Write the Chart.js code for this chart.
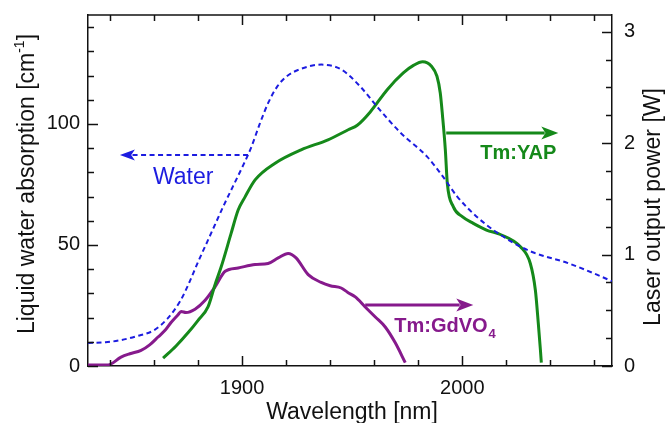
<!DOCTYPE html>
<html>
<head>
<meta charset="utf-8">
<script src="https://cdn.jsdelivr.net/npm/chart.js@4/dist/chart.umd.min.js"></script>
<style>
  html, body { margin: 0; padding: 0; background: #fff; }
  #wrap { width: 666px; height: 423px; position: relative; }
</style>
</head>
<body>
<div id="wrap"><canvas id="c"></canvas></div>
<script>
// ---------- data ----------
const waterWavelength = [1830, 1838, 1845, 1852, 1860, 1866, 1872, 1876, 1880, 1884, 1888, 1892, 1896, 1900, 1904, 1908, 1912, 1916, 1920, 1926, 1936, 1945, 1953.6, 1961.4, 1971.8, 1984, 1991.4, 1997.7, 2008, 2023, 2032, 2048, 2063, 2068];
const waterAbsorption = [9.5, 9.8, 10.7, 12.3, 14.8, 19.5, 27, 34.5, 43, 51, 59, 67, 74.5, 82, 90, 100, 109, 115.5, 119.5, 122.5, 124.5, 122.5, 115.5, 107, 96.5, 86.5, 78, 70, 60.5, 51, 47, 42.5, 37, 35];

const yapWavelength = [1864.1, 1870, 1875.5, 1880, 1884.5, 1887.7, 1890.5, 1895, 1898.2, 1901.4, 1905.9, 1915, 1926.8, 1939, 1948.2, 1952.3, 1958.2, 1965.9, 1973.2, 1978, 1982, 1986, 1988.5, 1990, 1991, 1992.3, 1993.2, 1995.9, 2000, 2005, 2011, 2017.3, 2026.4, 2030.9, 2033.2, 2034.5, 2035.5, 2035.9];
const yapPower = [0.07, 0.18, 0.30, 0.41, 0.53, 0.73, 0.89, 1.19, 1.40, 1.52, 1.67, 1.82, 1.94, 2.03, 2.12, 2.16, 2.28, 2.48, 2.63, 2.70, 2.73, 2.69, 2.60, 2.45, 2.25, 1.94, 1.64, 1.43, 1.34, 1.28, 1.22, 1.18, 1.07, 0.92, 0.68, 0.39, 0.14, 0.03];

const gdvoWavelength = [1830, 1839.1, 1845, 1849, 1854.1, 1858, 1861.8, 1865, 1867.7, 1870.9, 1872.3, 1874.5, 1878.6, 1883.2, 1887.7, 1892.3, 1898.2, 1905.9, 1911.8, 1916.4, 1920.9, 1924.5, 1930, 1935.9, 1940, 1945, 1948, 1951.4, 1955.9, 1960.5, 1965, 1969.5, 1974.1];
const gdvoPower = [0.01, 0.01, 0.08, 0.11, 0.14, 0.19, 0.26, 0.32, 0.39, 0.46, 0.49, 0.48, 0.51, 0.59, 0.71, 0.85, 0.88, 0.91, 0.92, 0.97, 1.01, 0.97, 0.82, 0.75, 0.72, 0.70, 0.66, 0.62, 0.53, 0.44, 0.35, 0.21, 0.03];

const xTickValues = [1840, 1860, 1880, 1900, 1920, 1940, 1960, 1980, 2000, 2020, 2040, 2060];
const xTickLabels = { 1900: '1900', 2000: '2000' };
const leftTickValues = [0, 10, 20, 30, 40, 50, 60, 70, 80, 90, 100, 110, 120, 130, 140];
const leftTickLabels = { 0: '0', 50: '50', 100: '100' };
const rightTickValues = [0, 0.25, 0.5, 0.75, 1, 1.25, 1.5, 1.75, 2, 2.25, 2.5, 2.75, 3];
const rightTickLabels = { 0: '0', 1: '1', 2: '2', 3: '3' };

const xTitle = 'Wavelength [nm]';
const leftTitle = 'Liquid water absorption [cm';
const leftTitleSup = '-1';
const rightTitle = 'Laser output power [W]';

const BLUE = '#1c1ce0';
const GREEN = '#15891a';
const PURPLE = '#861a8c';
const FONT = '"Liberation Sans", Arial, Helvetica, sans-serif';

const pts = (xs, ys) => xs.map((x, i) => ({ x: x, y: ys[i] }));

// ---------- plugins ----------
const frame = {
  id: 'frame',
  afterDraw(chart) {
    const { ctx, chartArea: a, scales } = chart;
    ctx.save();
    ctx.strokeStyle = '#111';
    ctx.lineWidth = 1.5;
    ctx.lineCap = 'butt';
    ctx.beginPath(); ctx.moveTo(a.left, a.top); ctx.lineTo(a.right, a.top); ctx.stroke();
    const line = (x1, y1, x2, y2) => { ctx.beginPath(); ctx.moveTo(x1, y1); ctx.lineTo(x2, y2); ctx.stroke(); };
    xTickValues.forEach(v => {
      const px = Math.round(scales.x.getPixelForValue(v)) + 0.5;
      const L = xTickLabels[v] ? 10 : 6;
      line(px, a.bottom, px, a.bottom - L);
      line(px, a.top, px, a.top + L);
    });
    leftTickValues.forEach(v => {
      const py = Math.round(scales.yL.getPixelForValue(v)) + 0.5;
      const L = leftTickLabels[v] ? 10 : 6;
      line(a.left, py, a.left + L, py);
    });
    rightTickValues.forEach(v => {
      const py = Math.round(scales.yR.getPixelForValue(v)) + 0.5;
      const L = rightTickLabels[v] ? 10 : 6;
      line(a.right, py, a.right - L, py);
    });
    ctx.restore();

    // axis titles
    ctx.save();
    ctx.fillStyle = '#111';
    ctx.textBaseline = 'alphabetic';
    ctx.font = '23px ' + FONT;
    ctx.textAlign = 'center';
    ctx.fillText(xTitle, (a.left + a.right) / 2 + 2, 419);

    ctx.save();
    ctx.translate(34, 184);
    ctx.rotate(-Math.PI / 2);
    ctx.font = '23px ' + FONT;
    const w1 = ctx.measureText(leftTitle).width;
    ctx.font = '14px ' + FONT;
    const w2 = ctx.measureText(leftTitleSup).width;
    ctx.font = '23px ' + FONT;
    const w3 = ctx.measureText(']').width;
    const total = w1 + w2 + w3;
    const sx = -total / 2;
    ctx.textAlign = 'left';
    ctx.fillText(leftTitle, sx, 0);
    ctx.font = '14px ' + FONT;
    ctx.fillText(leftTitleSup, sx + w1, -10);
    ctx.font = '23px ' + FONT;
    ctx.fillText(']', sx + w1 + w2, 0);
    ctx.restore();

    ctx.save();
    ctx.translate(660, 207);
    ctx.rotate(-Math.PI / 2);
    ctx.textAlign = 'center';
    ctx.font = '23px ' + FONT;
    ctx.fillText(rightTitle, 0, 0);
    ctx.restore();
    ctx.restore();
  }
};

function arrow(ctx, x1, y, x2, color, width, dash, headLen, headHalf) {
  ctx.save();
  ctx.strokeStyle = color;
  ctx.fillStyle = color;
  ctx.lineWidth = width;
  ctx.setLineDash(dash);
  const dir = Math.sign(x2 - x1);
  ctx.beginPath();
  ctx.moveTo(x1, y);
  ctx.lineTo(x2 - dir * headLen * 0.8, y);
  ctx.stroke();
  ctx.setLineDash([]);
  ctx.beginPath();
  ctx.moveTo(x2, y);
  ctx.lineTo(x2 - dir * headLen, y - headHalf);
  ctx.lineTo(x2 - dir * headLen * 0.75, y);
  ctx.lineTo(x2 - dir * headLen, y + headHalf);
  ctx.closePath();
  ctx.fill();
  ctx.restore();
}

const annotations = {
  id: 'annotations',
  afterDatasetsDraw(chart) {
    const { ctx, scales } = chart;
    const X = v => scales.x.getPixelForValue(v);
    const YL = v => scales.yL.getPixelForValue(v);
    const YR = v => scales.yR.getPixelForValue(v);
    arrow(ctx, X(1902.7), YL(87.2), X(1844.5), BLUE, 2, [5, 3.5], 15, 5.5);
    ctx.save();
    ctx.fillStyle = BLUE;
    ctx.font = '23px ' + FONT;
    ctx.textBaseline = 'alphabetic';
    ctx.textAlign = 'left';
    ctx.fillText('Water', X(1859.5), YL(75.2));
    ctx.restore();
    arrow(ctx, X(1992.7), YR(2.09), X(2043.6), GREEN, 3, [], 17, 6.5);
    ctx.save();
    ctx.fillStyle = GREEN;
    ctx.font = 'bold 20px ' + FONT;
    ctx.textBaseline = 'alphabetic';
    ctx.textAlign = 'left';
    ctx.fillText('Tm:YAP', X(2008.2), YR(1.86));
    ctx.restore();
    arrow(ctx, X(1955.9), YR(0.548), X(2005), PURPLE, 3, [], 17, 6.5);
    ctx.save();
    ctx.fillStyle = PURPLE;
    ctx.font = 'bold 20px ' + FONT;
    ctx.textBaseline = 'alphabetic';
    ctx.textAlign = 'left';
    const gx = X(1969.1), gy = YR(0.305);
    ctx.fillText('Tm:GdVO', gx, gy);
    const gw = ctx.measureText('Tm:GdVO').width;
    ctx.font = 'bold 13px ' + FONT;
    ctx.fillText('4', gx + gw + 1, gy + 6);
    ctx.restore();
  }
};

const noPad = s => { s.paddingTop = 0; s.paddingBottom = 0; s.paddingLeft = 0; s.paddingRight = 0; };

// ---------- chart ----------
const tickFont = { family: FONT, size: 20 };
new Chart(document.getElementById('c'), {
  type: 'line',
  data: {
    datasets: [
      {
        label: 'Water', data: pts(waterWavelength, waterAbsorption), yAxisID: 'yL',
        borderColor: BLUE, borderWidth: 2, borderDash: [5, 3.5], pointRadius: 0,
        cubicInterpolationMode: 'monotone', fill: false
      },
      {
        label: 'Tm:YAP', data: pts(yapWavelength, yapPower), yAxisID: 'yR',
        borderColor: GREEN, borderWidth: 3, pointRadius: 0,
        cubicInterpolationMode: 'monotone', fill: false
      },
      {
        label: 'Tm:GdVO4', data: pts(gdvoWavelength, gdvoPower), yAxisID: 'yR',
        borderColor: PURPLE, borderWidth: 3, pointRadius: 0,
        cubicInterpolationMode: 'monotone', fill: false
      }
    ]
  },
  options: {
    responsive: true,
    maintainAspectRatio: false,
    animation: false,
    layout: { padding: { top: 15, left: 0, right: 0, bottom: 0 } },
    plugins: { legend: { display: false }, tooltip: { enabled: false } },
    scales: {
      x: {
        type: 'linear', position: 'bottom', min: 1830, max: 2068,
        grid: { display: false, drawTicks: false },
        border: { display: true, color: '#111', width: 1.5 },
        afterBuildTicks: s => { s.ticks = xTickValues.map(v => ({ value: v })); },
        afterFit: s => { s.height = 57; noPad(s); },
        ticks: {
          autoSkip: false, maxRotation: 0, padding: 10, color: '#111', font: tickFont,
          callback: v => xTickLabels[v] || ''
        }
      },
      yL: {
        type: 'linear', position: 'left', min: 0, max: 145,
        grid: { display: false, drawTicks: false },
        border: { display: true, color: '#111', width: 1.5 },
        afterBuildTicks: s => { s.ticks = leftTickValues.map(v => ({ value: v })); },
        afterFit: s => { s.width = 88; noPad(s); },
        ticks: {
          autoSkip: false, padding: 8, color: '#111', font: tickFont,
          callback: v => leftTickLabels[v] || ''
        }
      },
      yR: {
        type: 'linear', position: 'right', min: 0, max: 3.15,
        grid: { display: false, drawTicks: false },
        border: { display: true, color: '#111', width: 1.5 },
        afterBuildTicks: s => { s.ticks = rightTickValues.map(v => ({ value: v })); },
        afterFit: s => { s.width = 54; noPad(s); },
        ticks: {
          autoSkip: false, padding: 12, color: '#111', font: tickFont,
          callback: v => rightTickLabels[v] || ''
        }
      }
    }
  },
  plugins: [frame, annotations]
});
</script>
</body>
</html>
